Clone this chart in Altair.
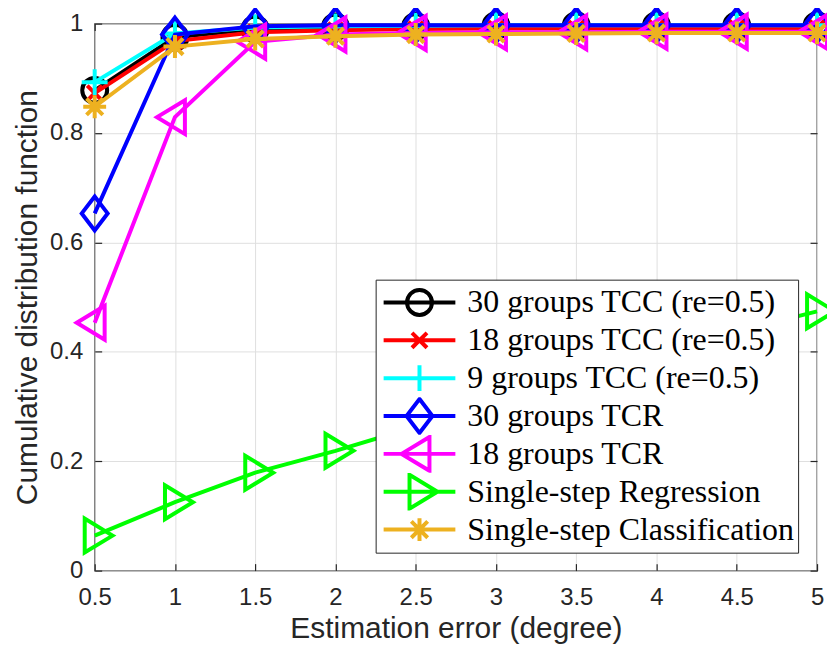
import altair as alt
import pandas as pd

# ---------------- data ----------------
x_vals = [0.5, 1.0, 1.5, 2.0, 2.5, 3.0, 3.5, 4.0, 4.5, 5.0]
series_names = [
    "30 groups TCC (re=0.5)",
    "18 groups TCC (re=0.5)",
    "9 groups TCC (re=0.5)",
    "30 groups TCR",
    "18 groups TCR",
    "Single-step Regression",
    "Single-step Classification",
]
tcc30 = [0.878, 0.975, 0.990, 0.994, 0.995, 0.996, 0.996, 0.996, 0.996, 0.996]
tcc18 = [0.873, 0.968, 0.984, 0.988, 0.990, 0.991, 0.991, 0.992, 0.992, 0.992]
tcc9 = [0.893, 0.982, 0.993, 0.995, 0.996, 0.997, 0.997, 0.997, 0.997, 0.997]
tcr30 = [0.653, 0.980, 0.995, 0.997, 0.997, 0.997, 0.997, 0.997, 0.997, 0.997]
tcr18 = [0.453, 0.829, 0.967, 0.980, 0.983, 0.984, 0.984, 0.985, 0.985, 0.985]
single_reg = [0.064, 0.125, 0.179, 0.219, 0.263, 0.302, 0.345, 0.390, 0.437, 0.474]
single_cls = [0.848, 0.958, 0.972, 0.977, 0.980, 0.981, 0.982, 0.983, 0.983, 0.983]
series_values = [tcc30, tcc18, tcc9, tcr30, tcr18, single_reg, single_cls]
colors = ["#000000", "#ff0000", "#00ffff", "#0000ff", "#ff00ff", "#00ff00", "#edb120"]
markers = ["circle", "x", "plus", "diamond", "tri_left", "tri_right", "star"]

x_ticks = x_vals
y_ticks = [0, 0.2, 0.4, 0.6, 0.8, 1.0]

rows = []
for name, vals in zip(series_names, series_values):
    for xv, yv in zip(x_vals, vals):
        rows.append({"series": name, "x": xv, "y": yv})
df = pd.DataFrame(rows)

# ---------------- styling helpers ----------------
W, H = 725, 549
AXIS_COLOR = "#262626"
LW = 4


def f(v):
    s = f"{v:.4f}".rstrip("0").rstrip(".")
    return s if s not in ("-0", "") else "0"


def marker_path(kind, unit, line_half=None):
    """Path in Vega custom-symbol units; geometry given in px, unit = px per unit."""
    u = lambda v: f(v / unit)
    if kind == "circle":
        r = 12.5
        p = f"M{u(r)},0A{u(r)},{u(r)} 0 1,1 {u(-r)},0A{u(r)},{u(r)} 0 1,1 {u(r)},0Z"
    elif kind == "x":
        d = 7.5
        p = f"M{u(-d)},{u(-d)}L{u(d)},{u(d)}M{u(-d)},{u(d)}L{u(d)},{u(-d)}"
    elif kind == "plus":
        d = 13
        p = f"M{u(-d)},0L{u(d)},0M0,{u(-d)}L0,{u(d)}"
    elif kind == "diamond":
        a, b = 13, 17
        p = f"M0,{u(-b)}L{u(a)},0L0,{u(b)}L{u(-a)},0Z"
    elif kind == "tri_left":
        p = f"M{u(-18)},0L{u(10)},{u(-17)}L{u(10)},{u(17)}Z"
    elif kind == "tri_right":
        p = f"M{u(18)},0L{u(-10)},{u(-17)}L{u(-10)},{u(17)}Z"
    else:  # star
        d, e = 11.5, 8.2
        p = (f"M0,{u(-d)}L0,{u(d)}M{u(-d)},0L{u(d)},0"
             f"M{u(-e)},{u(-e)}L{u(e)},{u(e)}M{u(-e)},{u(e)}L{u(e)},{u(-e)}")
    if line_half is not None:
        p = f"M{u(-line_half)},0L{u(line_half)},0" + p
    return p


PLOT_SIZE = 400           # r = 10 px per unit
plot_unit = 10
LEG_SIZE = 68 * 68        # r = 34 px per unit
leg_unit = 34

plot_paths = [marker_path(m, plot_unit) for m in markers]
legend_paths = [marker_path(m, leg_unit, line_half=36) for m in markers]

xscale = alt.Scale(domain=[0.5, 5], nice=False, zero=False)
yscale = alt.Scale(domain=[0, 1], nice=False, zero=False)

main_x_axis = alt.Axis(values=x_ticks, format="~g", ticks=False, tickSize=0, domain=False,
                       labelFlush=False,
                       grid=True, gridColor="#dfdfdf", gridWidth=1, labelPadding=15,
                       title="Estimation error (degree)", titleY=67,
                       titleBaseline="alphabetic", titleX=W / 2)
main_y_axis = alt.Axis(values=y_ticks, format="~g", ticks=False, tickSize=0, domain=False,
                       labelFlush=False,
                       grid=True, gridColor="#dfdfdf", gridWidth=1, labelPadding=12,
                       title="Cumulative distribution function", titleX=-58, titleY=H / 2,
                       titleBaseline="alphabetic", titleAngle=270)


def tick_axis(orient, offset, vals):
    return alt.Axis(orient=orient, offset=offset, values=vals, labels=False, domain=False,
                    grid=False, ticks=True, tickSize=7, tickColor=AXIS_COLOR, tickWidth=1.2,
                    title=None)


layers = []
for i, (name, color, path) in enumerate(zip(series_names, colors, plot_paths)):
    if i == 0:
        xa, ya = main_x_axis, main_y_axis
    elif i == 1:
        xa, ya = tick_axis("top", -H, x_ticks), tick_axis("right", -W, y_ticks)
    elif i == 2:
        xa, ya = tick_axis("bottom", -H, x_ticks), tick_axis("left", -W, y_ticks)
    else:
        xa, ya = None, None
    enc_x = alt.X("x:Q", scale=xscale, axis=xa)
    enc_y = alt.Y("y:Q", scale=yscale, axis=ya)
    filt = alt.datum.series == name
    line = alt.Chart().mark_line(color=color, strokeWidth=LW, clip=False).encode(
        x=enc_x, y=enc_y).transform_filter(filt)
    pts = alt.Chart().mark_point(shape=path, size=PLOT_SIZE, filled=False, color=color,
                                 strokeWidth=LW, opacity=1, clip=False).encode(
        x=alt.X("x:Q", scale=xscale, axis=None),
        y=alt.Y("y:Q", scale=yscale, axis=None)).transform_filter(filt)
    layers += [line, pts]

legend = alt.Legend(
    title=None, orient="none", legendX=282, legendY=257,
    padding=4, strokeColor=AXIS_COLOR, fillColor="white", cornerRadius=0,
    labelFont="Liberation Serif", labelFontSize=32, labelColor="black",
    labelLimit=1000, labelOffset=12, symbolOffset=4,
    symbolSize=LEG_SIZE, symbolStrokeWidth=LW, symbolOpacity=1,
    clipHeight=37.7, rowPadding=0,
)
legend_layer = alt.Chart().mark_point(filled=False, strokeWidth=LW, opacity=1, size=LEG_SIZE).encode(
    color=alt.Color("series:N", scale=alt.Scale(domain=series_names, range=colors),
                    legend=legend, sort=series_names),
    shape=alt.Shape("series:N", scale=alt.Scale(domain=series_names, range=legend_paths),
                    legend=legend, sort=series_names),
).transform_filter("false")
layers.append(legend_layer)

chart = alt.layer(*layers, data=df).resolve_axis(x="independent", y="independent").properties(
    width=W, height=H,
    autosize=alt.AutoSizeParams(type="none"),
    padding={"left": 87, "top": 14.5, "right": 10, "bottom": 72},
).configure_view(stroke=AXIS_COLOR, strokeWidth=1.3).configure_axis(
    labelFont="Liberation Sans", labelFontSize=24, labelColor=AXIS_COLOR,
    titleFont="Liberation Sans", titleFontSize=30, titleFontWeight="normal",
    titleColor=AXIS_COLOR,
)

chart.save("out.html", embed_options={"renderer": "svg", "actions": False})
